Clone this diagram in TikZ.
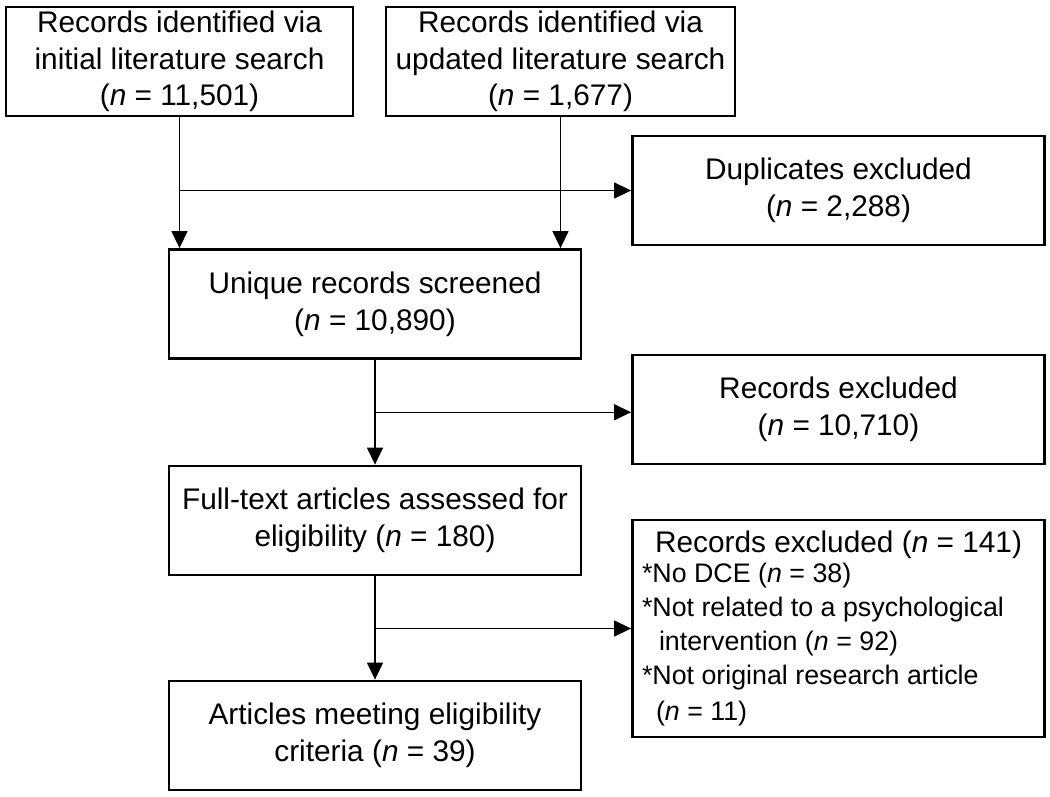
\documentclass[tikz,border=0pt]{standalone}
\usepackage{fontspec}
\setmainfont{Liberation Sans}
\usetikzlibrary{arrows.meta,positioning,calc}

\newcommand{\mainfs}{\fontsize{14.9}{18.3}\selectfont}
\newcommand{\smallfs}{\fontsize{13.4}{16.9}\selectfont}

\begin{document}
\begin{tikzpicture}[
    x=0.5pt, y=-0.5pt,
    flowbox/.style={rectangle, draw=black, line width=1.4pt, minimum width=206pt, minimum height=54.5pt, inner sep=0pt, align=center, font=\mainfs},
    arrow/.style={-{Triangle[width=8pt,length=8.5pt]}, line width=0.7pt}
]
\useasboundingbox (0,0) rectangle (1050,797);

% Sources
\node[flowbox, minimum width=173.5pt] (srcA) at (179.5,61.5) {Records identified via\\initial literature search\\(\textit{n} = 11,501)};
\node[flowbox, minimum width=174.5pt] (srcB) at (560.5,61.5) {Records identified via\\updated literature search\\(\textit{n} = 1,677)};

% Main column
\node[flowbox] (unique) at (375,304) {Unique records screened\\(\textit{n} = 10,890)};
\node[flowbox] (full) at (375,520.5) {Full-text articles assessed for\\eligibility (\textit{n} = 180)};
\node[flowbox] (final) at (375,735.5) {Articles meeting eligibility\\criteria (\textit{n} = 39)};

% Exclusions
\node[flowbox] (dup) at (838.5,190.5) {Duplicates excluded\\(\textit{n} = 2,288)};
\node[flowbox] (excl) at (838.5,409.5) {Records excluded\\(\textit{n} = 10,710)};
\node[flowbox, minimum height=108.5pt, text width=196.5pt, inner xsep=4.5pt, align=left] (excl2) at (838.5,628.5) {%
    \spaceskip=0pt \xspaceskip=0pt \rightskip=0pt plus 1fil
    \makebox[\hsize]{Records excluded (\textit{n} = 141)}\\[-1.5pt]
    \smallfs *No DCE (\textit{n} = 38)\\
    \smallfs *Not related to a psychological\\
    \smallfs \hspace*{8.5pt}intervention (\textit{n} = 92)\\
    \smallfs *Not original research article\\
    \smallfs \hspace*{7pt}(\textit{n} = 11)};

% Junctions
\coordinate (jA) at (srcA.south |- dup.west);
\coordinate (jU) at ($(unique.south)!0.5!(full.north)$);
\coordinate (jF) at (full.south |- excl2.west);

% Arrows
\draw[arrow] (srcA.south) -- (srcA.south |- unique.north);
\draw[arrow] (srcB.south) -- (srcB.south |- unique.north);
\draw[arrow] (jA) -- (dup.west);
\draw[arrow] (unique) -- (full);
\draw[arrow] (jU) -- (jU -| excl.west);
\draw[arrow] (full) -- (final);
\draw[arrow] (jF) -- (excl2.west);
\end{tikzpicture}
\end{document}
